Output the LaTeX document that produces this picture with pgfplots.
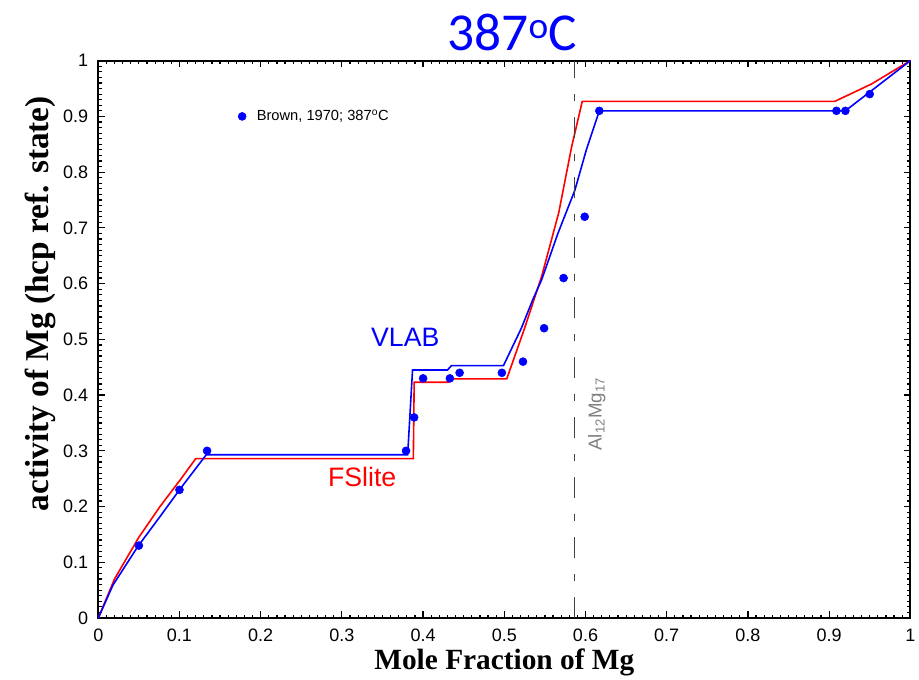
\documentclass[border=0pt]{standalone}
\usepackage{pgfplots}
\pgfplotsset{compat=1.18}
\usepackage{fontspec}
\setmainfont{Liberation Sans}
\newfontfamily\timesbold{Liberation Serif}
\newfontfamily\calib{Carlito}

\begin{document}
\begin{tikzpicture}
% frame of the picture: 919 x 679 px at 0.75 pt/px
\useasboundingbox (-73.7pt,-45.75pt) rectangle (615.5pt,463.5pt);
\begin{axis}[
    at={(0,0)}, anchor=south west,
    scale only axis,
    width=609pt, height=418pt,
    xmin=0, xmax=1, ymin=0, ymax=1,
    xtick={0,0.1,...,1.01},
    ytick={0,0.1,...,1.01},
    minor tick num=9,
    tick align=inside,
    major tick length=5pt,
    minor tick length=2.5pt,
    every tick/.style={black, line width=0.9pt},
    axis line style={line width=1.3pt},
    xtick pos=both, ytick pos=both,
    /pgf/number format/assume math mode=true,
    ticklabel style={font=\fontsize{13.5}{15}\selectfont},
    xticklabel style={yshift=-5pt},
    yticklabel style={xshift=-4pt},
    xticklabels={0,0.1,0.2,0.3,0.4,0.5,0.6,0.7,0.8,0.9,1},
    yticklabels={0,0.1,0.2,0.3,0.4,0.5,0.6,0.7,0.8,0.9,1},
    xlabel={Mole Fraction of Mg},
    xlabel style={font=\timesbold\bfseries\fontsize{22}{26}\selectfont,
        at={(axis description cs:0.5,0)}, anchor=center, yshift=-33pt},
    legend style={at={(axis cs:0.167,0.9)}, anchor=west, draw=none, fill=none,
        font=\fontsize{11}{13}\selectfont,
        /tikz/every odd column/.append style={column sep=6pt}},
    clip=false,
]
% FSlite (red)
\addplot[red, line width=1.2pt, forget plot] coordinates {
(0,0) (0.02,0.07) (0.05,0.145) (0.076,0.2) (0.101,0.248) (0.12,0.286)
(0.388,0.286) (0.389,0.423) (0.431,0.423) (0.435,0.429) (0.503,0.429)
(0.525,0.52) (0.546,0.613) (0.567,0.727) (0.583,0.846) (0.596,0.927)
(0.907,0.927) (0.952,0.958) (1,1)
};
% VLAB (blue)
\addplot[blue, line width=1.2pt, forget plot] coordinates {
(0,0) (0.018,0.059) (0.049,0.129) (0.075,0.18) (0.101,0.232) (0.133,0.293)
(0.381,0.293) (0.387,0.445) (0.430,0.445) (0.435,0.453) (0.499,0.453)
(0.521,0.52) (0.535,0.571) (0.546,0.607) (0.566,0.69) (0.587,0.768)
(0.601,0.84) (0.617,0.91) (0.92,0.91) (0.952,0.946) (1,1)
};
% Al12Mg17 composition line
\addplot[black!75, line width=0.8pt, dash pattern=on 16pt off 12pt on 5pt off 12pt, forget plot]
coordinates {(0.587,0) (0.587,1)};
% Brown, 1970 data
\addplot[only marks, mark=*, mark size=3pt, color=blue] coordinates {
(0.05,0.13) (0.1,0.23) (0.134,0.30) (0.379,0.30) (0.389,0.36) (0.40,0.43)
(0.433,0.43) (0.445,0.44) (0.497,0.44) (0.523,0.46) (0.549,0.52)
(0.573,0.61) (0.599,0.72) (0.617,0.91) (0.909,0.91) (0.920,0.91) (0.950,0.94)
};
\addlegendentry{Brown, 1970; 387\textsuperscript{o}C}

\node[blue, font=\fontsize{20}{24}\selectfont] at (axis cs:0.378,0.504) {VLAB};
\node[red, font=\fontsize{20}{24}\selectfont] at (axis cs:0.325,0.253) {FSlite};
\node[gray, rotate=90, font=\fontsize{14}{16}\selectfont] at (axis cs:0.614,0.366) {Al\textsubscript{12}Mg\textsubscript{17}};
\node[blue, font=\calib\fontsize{40}{44}\selectfont] at (axis cs:0.51,1.05) {387\textsuperscript{o}C};
\node[rotate=90, font=\timesbold\bfseries\fontsize{25}{29}\selectfont]
    at ([xshift=-43pt]axis description cs:0,0.564) {activity of Mg (hcp ref. state)};
\end{axis}
\end{tikzpicture}
\end{document}
